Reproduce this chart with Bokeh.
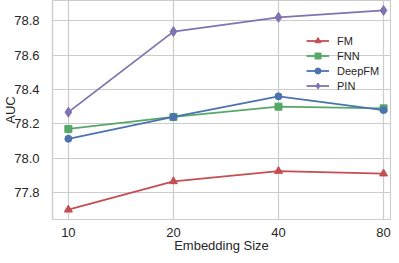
from bokeh.plotting import figure
from bokeh.models import Range1d, FixedTicker, Legend, LegendItem
from bokeh.embed import file_html
from bokeh.resources import INLINE

sizes = ["10", "20", "40", "80"]
fm = [77.70, 77.865, 77.925, 77.91]
fnn = [78.17, 78.24, 78.30, 78.29]
deepfm = [78.113, 78.24, 78.36, 78.28]
pin = [78.268, 78.737, 78.82, 78.86]
y_ticks = [77.8, 78.0, 78.2, 78.4, 78.6, 78.8]

series = [
    ("FM", fm, "#C44E52", "triangle", 8),
    ("FNN", fnn, "#55A868", "square", 7),
    ("DeepFM", deepfm, "#4C72B0", "circle", 7),
    ("PIN", pin, "#8172B2", "diamond", 10),
]

x_pos = list(range(len(sizes)))
FONT = "Liberation Sans"
GRID = "#cccccc"
TEXT = "#262626"

p = figure(width=391, height=255, output_backend="svg", toolbar_location=None,
           x_range=Range1d(-0.151, len(sizes) - 1 + 0.066),
           y_range=Range1d(77.643, 78.918),
           min_border_left=49, min_border_right=1, min_border_top=0, min_border_bottom=36)
p.background_fill_color = "white"
p.border_fill_color = "white"
p.outline_line_color = GRID
p.outline_line_width = 1.2

p.xaxis.ticker = FixedTicker(ticks=x_pos)
p.xaxis.major_label_overrides = {i: s for i, s in zip(x_pos, sizes)}
p.yaxis.ticker = FixedTicker(ticks=y_ticks)
p.yaxis.major_label_overrides = {t: f"{t:.1f}" for t in y_ticks}

for ax in (p.xaxis[0], p.yaxis[0]):
    ax.axis_line_color = GRID
    ax.axis_line_width = 1.2
    ax.major_tick_line_color = None
    ax.minor_tick_line_color = None
    ax.major_label_text_font = FONT
    ax.major_label_text_font_size = "13px"
    ax.major_label_text_color = TEXT
    ax.axis_label_text_font = FONT
    ax.axis_label_text_font_size = "13px"
    ax.axis_label_text_font_style = "normal"
    ax.axis_label_text_color = TEXT

p.xaxis.axis_label = "Embedding Size"
p.yaxis.axis_label = "AUC"
p.xaxis.major_label_standoff = 2
p.xaxis.axis_label_standoff = -2
p.yaxis.major_label_standoff = 7
p.yaxis.axis_label_standoff = -7

p.grid.grid_line_color = GRID
p.grid.grid_line_width = 1.2

items = []
for name, vals, color, marker, msize in series:
    r1 = p.line(x_pos, vals, line_color=color, line_width=1.8)
    r2 = p.scatter(x_pos, vals, marker=marker, size=msize, fill_color=color, line_color=color)
    items.append(LegendItem(label=name, renderers=[r1, r2]))

legend = Legend(items=items, location=(254, 126), padding=0, margin=0, spacing=0,
                glyph_width=23, glyph_height=15, label_height=15, label_standoff=8,
                label_text_font=FONT, label_text_font_size="11px", label_text_color=TEXT,
                border_line_color=None, background_fill_alpha=0)
p.add_layout(legend, "center")

open("out.html", "w").write(file_html(p, INLINE))
